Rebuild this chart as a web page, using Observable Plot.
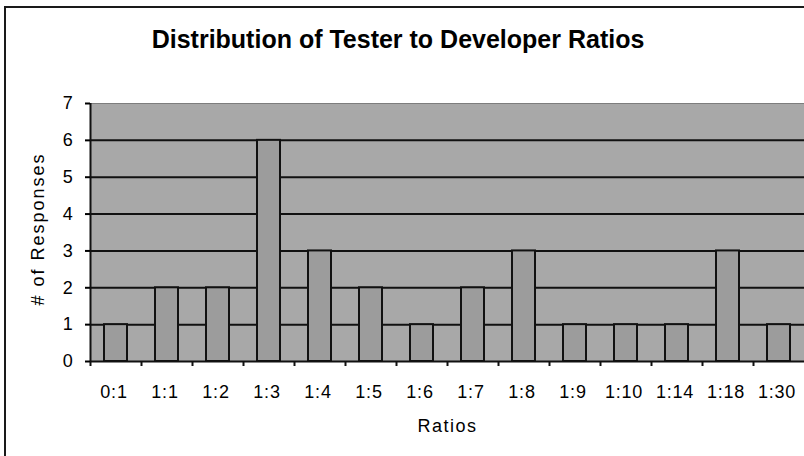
<!DOCTYPE html>
<html>
<head>
<meta charset="utf-8">
<script src="https://cdn.jsdelivr.net/npm/d3@7"></script>
<script src="https://cdn.jsdelivr.net/npm/@observablehq/plot@0.6"></script>
<style>
  html, body { margin: 0; padding: 0; background: #fff; width: 804px; height: 456px; overflow: hidden; }
  body { position: relative; font-family: "Liberation Sans", Arial, sans-serif; }
  #border { position: absolute; left: 4px; top: 6px; width: 900px; height: 500px;
            border-top: 2px solid #1a1a1a; border-left: 2px solid #1a1a1a; box-sizing: border-box; }
  #title { position: relative; height: 90px; box-sizing: border-box; padding-top: 27px;
           text-align: center; font-size: 25px; line-height: 25px; font-weight: bold; color: #000;
           width: 796px; letter-spacing: 0px; }
  #chart { position: relative; }
  #chart svg text { letter-spacing: 0.8px; }
  #chart svg .ylab text { letter-spacing: 2px; }
  #chart svg .xlab text { letter-spacing: 1.5px; }
</style>
</head>
<body>
<div id="border"></div>
<div id="title">Distribution of Tester to Developer Ratios</div>
<div id="chart"></div>
<script>
const categories = ["0:1","1:1","1:2","1:3","1:4","1:5","1:6","1:7","1:8","1:9","1:10","1:14","1:18","1:30"];
const counts = [1, 2, 2, 6, 3, 2, 1, 2, 3, 1, 1, 1, 3, 1];
const yTicks = [0, 1, 2, 3, 4, 5, 6, 7];
const gridValues = [1, 2, 3, 4, 5, 6];
const xTitle = "Ratios";
const yTitle = "# of Responses";

const data = categories.map((c, i) => ({ratio: c, count: counts[i]}));
const halfStep = 25.5;

const chart = Plot.plot({
  width: 804,
  height: 366,
  marginLeft: 90,
  marginRight: 0,
  marginTop: 13,
  marginBottom: 95,
  style: {fontFamily: "'Liberation Sans', Arial, sans-serif", fontSize: "18px", background: "transparent", color: "#000"},
  x: {type: "band", domain: categories, paddingInner: 0.55, paddingOuter: 0.275, label: null},
  y: {domain: [0, 7], label: null},
  marks: [
    Plot.frame({fill: "#a8a8a8", stroke: null}),
    Plot.ruleY([7], {stroke: "#7d7d7d", strokeWidth: 1}),
    Plot.ruleY(gridValues, {stroke: "#111", strokeWidth: 2}),
    Plot.barY(data, {x: "ratio", y: "count", fill: "#9c9c9c", stroke: "#111", strokeWidth: 2}),
    Plot.ruleY([0], {stroke: "#111", strokeWidth: 2}),
    Plot.ruleX([categories[0]], {y1: 0, y2: 7, dx: -halfStep, stroke: "#111", strokeWidth: 2}),
    Plot.ruleX(categories, {y1: 0, y2: 0, insetBottom: -5, dx: -halfStep, stroke: "#111", strokeWidth: 2}),
    Plot.axisY({ticks: yTicks, tickSize: 5, tickPadding: 12, fontSize: 18, strokeWidth: 2, label: null, tickFormat: d => String(d)}),
    Plot.axisX({tickSize: 0, tickPadding: 24, dx: -2, fontSize: 18, label: null}),
    Plot.text([xTitle], {frameAnchor: "bottom", lineAnchor: "top", dy: 58, fontSize: 18, className: "xlab"}),
    Plot.text([yTitle], {frameAnchor: "left", textAnchor: "start", rotate: -90, dx: -52, dy: 73, fontSize: 18, className: "ylab"})
  ]
});
document.getElementById("chart").appendChild(chart);
</script>
</body>
</html>
